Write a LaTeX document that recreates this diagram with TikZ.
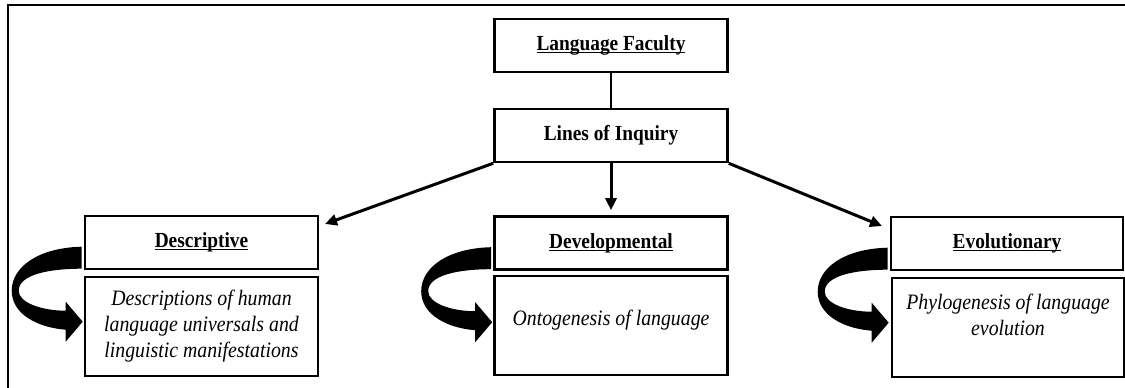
\documentclass[tikz,border=0pt]{standalone}
\usepackage{fontspec}
\setmainfont{Liberation Serif}
% slightly condensed serif, as the labels are set narrow and tall
\newfontfamily\narrowserif[FakeStretch=0.9]{Liberation Serif}
\usetikzlibrary{arrows.meta}

% bold heading with a word-processor style underline through the descenders
\newsavebox\ulheadbox
\newcommand\ulhead[1]{\sbox\ulheadbox{#1}\rlap{\rule[-2.6pt]{\wd\ulheadbox}{1.2pt}}\usebox\ulheadbox}

% thick curved arrow from the left side of a heading box down into its content box
\newcommand\bendarrow[1]{%
  \begin{scope}[shift={(#1.north west)}]
    \fill (-2,32) .. controls (-45,33) and (-72,52) .. (-72,76)
          .. controls (-72,100) and (-45,113) .. (-18,115)
          -- (-18,127) -- (-1,107) -- (-18,87) -- (-18,96)
          .. controls (-42,96) and (-65,88) .. (-65,76)
          .. controls (-65,60) and (-35,54) .. (-2,54) -- cycle;
  \end{scope}}

\begin{document}
\begin{tikzpicture}[x=1pt,y=-1pt,
  hdr/.style={draw, line width=2.6pt, minimum width=233pt, minimum height=53pt,
    inner sep=0pt, font=\narrowserif\fontsize{21.5}{25}\selectfont\bfseries},
  cbox/.style={draw, line width=2.6pt, minimum width=233pt, minimum height=99pt, inner sep=0pt},
  ctext/.style={font=\narrowserif\fontsize{22}{26}\selectfont\itshape, align=center, inner sep=0pt},
  link/.style={line width=3pt, -{Triangle[length=12pt,width=11pt]}}]
\useasboundingbox (0,0) rectangle (1125,388);

% frame
\draw[line width=2pt] (1125,5) -- (8,5) -- (8,388);

% top of the hierarchy
\node[hdr] (lf)  at (611,45.5)  {\ulhead{Language Faculty}};
\node[hdr] (loi) at (611,135.5) {Lines of Inquiry};

% three lines of inquiry
\node[hdr] (desc) at (201.5,242.5) {\ulhead{Descriptive}};
\node[hdr] (dev)  at (611,243)     {\ulhead{Developmental}};
\node[hdr, minimum width=232pt] (evo) at (1007,243.5) {\ulhead{Evolutionary}};

% content boxes
\node[cbox] (descC) at (201.5,326.5) {};
\node[cbox] (devC)  at (611,325.5)   {};
\node[cbox, minimum width=232pt] (evoC) at (1008,327.5) {};

\node[ctext] (descT) at (201.5,326) {Descriptions of human\\language universals and\\linguistic manifestations};
\node[ctext] (devT)  at (611,320)   {Ontogenesis of language};
\node[ctext] (evoT)  at (1008,315)  {Phylogenesis of language\\evolution};

% connectors
\draw[line width=2.8pt] (lf) -- (loi);
\coordinate (descTip) at (325,224);
\coordinate (evoTip)  at (882,226);
\draw[link] (loi.south west) -- (descTip);
\draw[link, shorten >=5pt] (loi) -- (dev);
\draw[link] (loi.south east) -- (evoTip);

% curved arrows
\bendarrow{desc}
\bendarrow{dev}
\bendarrow{evo}
\end{tikzpicture}
\end{document}
